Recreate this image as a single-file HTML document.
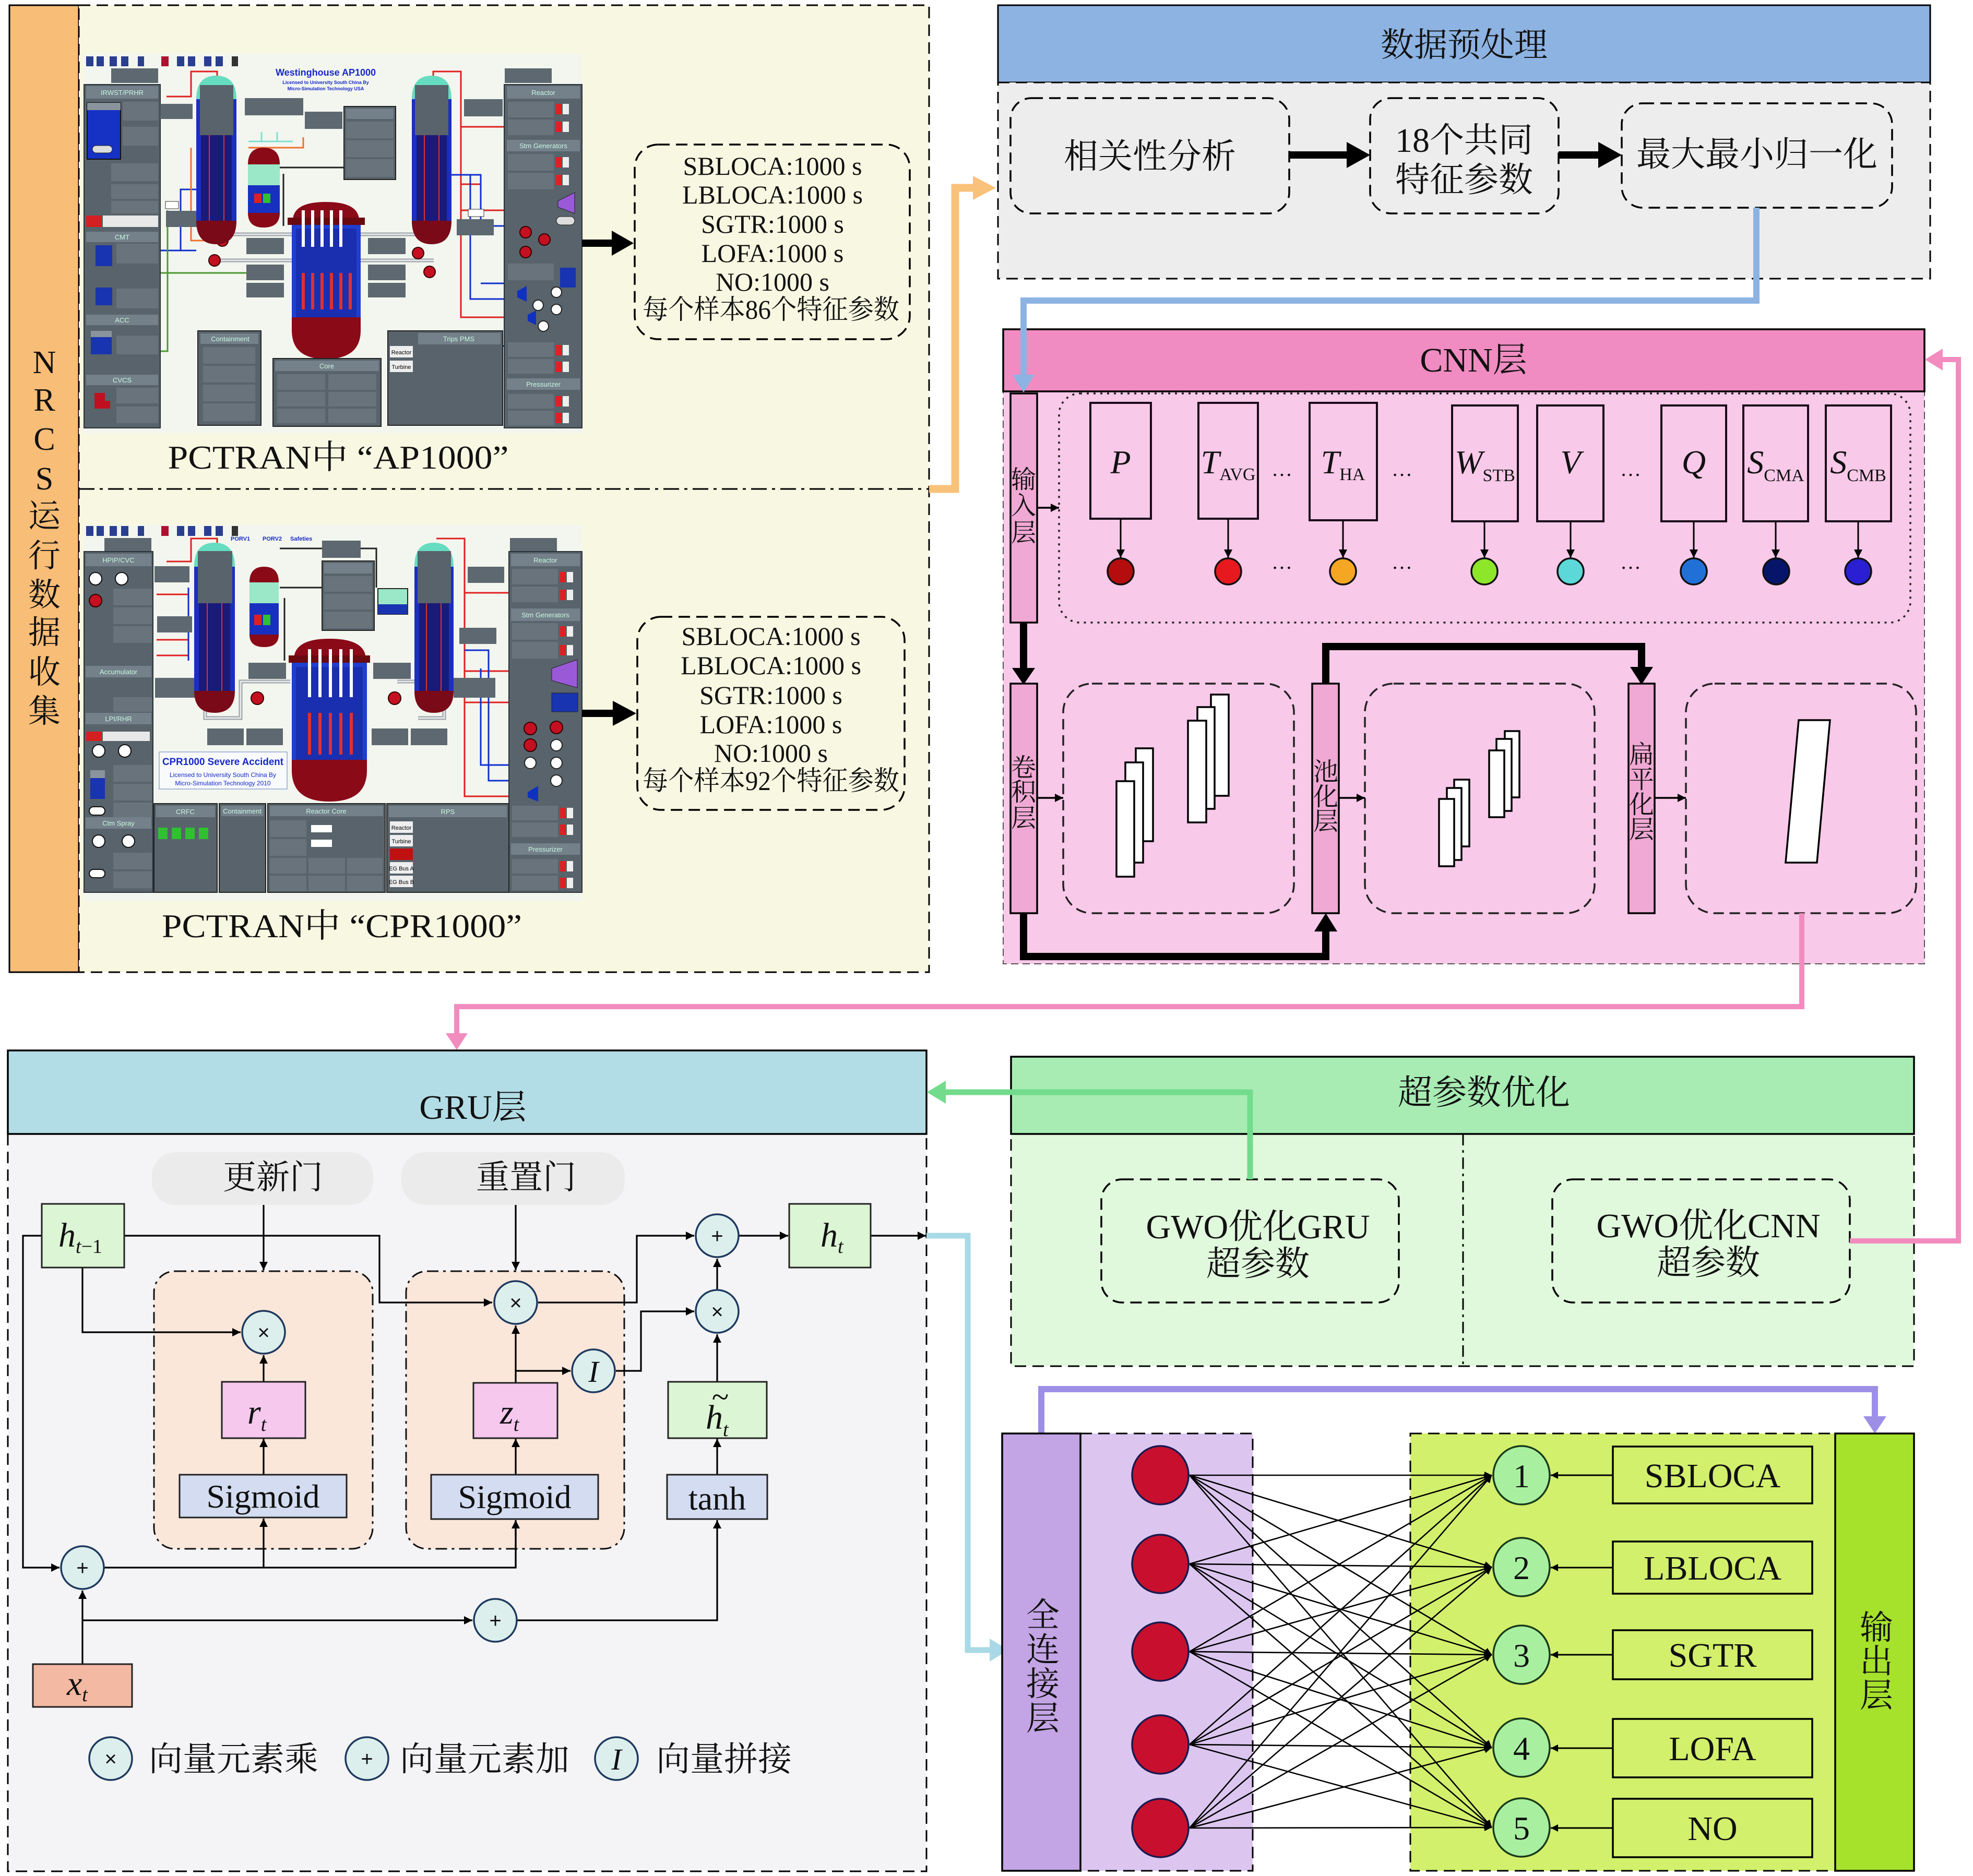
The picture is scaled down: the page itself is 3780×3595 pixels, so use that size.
<!DOCTYPE html>
<html><head><meta charset="utf-8"><title>diagram</title>
<style>
html,body{margin:0;padding:0;background:#fff;}
svg{display:block;}
.t{font-family:"Liberation Serif","Noto Serif CJK SC",serif;fill:#111;}
.sa{font-family:"Liberation Sans",sans-serif;}
</style></head>
<body>
<svg width="3780" height="3595" viewBox="0 0 3780 3595" xmlns="http://www.w3.org/2000/svg">
<defs>
<marker id="ah" viewBox="0 0 10 10" refX="10" refY="5" markerWidth="20" markerHeight="16" markerUnits="userSpaceOnUse" orient="auto"><path d="M0,0 L10,5 L0,10 z" fill="#000"/></marker>
<marker id="ah2" viewBox="0 0 10 10" refX="10" refY="5" markerWidth="18" markerHeight="14" markerUnits="userSpaceOnUse" orient="auto"><path d="M0,0 L10,5 L0,10 z" fill="#000"/></marker>
</defs>
<rect width="3780" height="3595" fill="#fff"/>

<!-- ================= LEFT: data collection ================= -->
<rect x="18" y="10" width="133" height="1853" fill="#f8bd77" stroke="#000" stroke-width="3"/>
<rect x="151" y="10" width="1629" height="1853" fill="#f8f8e2" stroke="#000" stroke-width="3" stroke-dasharray="22 12"/>
<line x1="151" y1="937" x2="1780" y2="937" stroke="#000" stroke-width="3" stroke-dasharray="30 10 6 10"/>
<g class="t" font-size="62" text-anchor="middle">
<text x="85" y="715">N</text><text x="85" y="787">R</text><text x="85" y="862">C</text><text x="85" y="938">S</text>
<text x="85" y="1010">运</text><text x="85" y="1086">行</text><text x="85" y="1161">数</text><text x="85" y="1233">据</text><text x="85" y="1309">收</text><text x="85" y="1384">集</text>
</g>

<!-- Screenshot 1 : AP1000 -->
<g transform="translate(161,103)">
<rect width="954" height="727" fill="#f3f6ef"/>
<g fill="#2a3f8f"><rect x="4" y="5" width="14" height="19"/><rect x="24" y="5" width="14" height="19"/><rect x="49" y="5" width="14" height="19"/><rect x="71" y="5" width="14" height="19"/><rect x="103" y="5" width="12" height="19"/><rect x="148" y="5" width="14" height="19" fill="#b01030"/><rect x="178" y="5" width="14" height="19"/><rect x="199" y="5" width="14" height="19"/><rect x="230" y="5" width="14" height="19"/><rect x="252" y="5" width="14" height="19"/><rect x="283" y="5" width="12" height="19" fill="#333"/></g>
<g fill="none" stroke-width="3">
<path d="M158,82 L205,82 L205,34 L255,34 L255,48" stroke="#e02020"/>
<path d="M669,42 L669,34 L722,34 L722,505 L805,505" stroke="#e02020"/>
<path d="M722,140 L805,140 M722,300 L805,300 M722,250 L760,250" stroke="#e02020"/>
<path d="M146,377 L215,377 M185,377 L185,260 L215,260" stroke="#1030d0"/>
<path d="M700,232 L760,232 L760,330 L805,330 M760,440 L805,440 M700,560 L805,560 M740,232 L740,470 L805,470" stroke="#1030d0"/>
<path d="M146,420 L315,420 M160,300 L160,570 L146,570" stroke="#4a9a30"/>
<path d="M205,180 L205,358 L240,358 M315,180 L420,180 L420,160" stroke="#f07030"/>
<path d="M315,168 L400,168 M340,150 L340,168 M370,150 L370,168" stroke="#80e0d0"/>
<path d="M375,218 L498,218 M382,230 L382,330" stroke="#222"/>
</g>
<g stroke="#9aa0a6" stroke-width="7" fill="none"><path d="M253,346 L400,346 M253,396 L400,396 M527,346 L670,346 M527,396 L670,396"/></g>
<g stroke="#e6e8ea" stroke-width="3" fill="none"><path d="M253,346 L400,346 M253,396 L400,396 M527,346 L670,346 M527,396 L670,396"/></g>
<rect x="52" y="28" width="90" height="28" fill="#5d6870"/>
<rect x="0" y="59" width="146" height="658" fill="#58636b" stroke="#2a3238" stroke-width="2"/>
<g fill="#74808a"><rect x="4" y="62" width="138" height="24"/><rect x="4" y="341" width="138" height="20"/><rect x="4" y="500" width="138" height="20"/><rect x="4" y="615" width="138" height="20"/></g>
<g fill="#68737b"><rect x="74" y="92" width="68" height="36"/><rect x="74" y="140" width="68" height="36"/><rect x="52" y="210" width="90" height="34"/><rect x="52" y="250" width="90" height="28"/><rect x="52" y="282" width="90" height="24"/><rect x="62" y="364" width="80" height="38"/><rect x="62" y="450" width="80" height="38"/><rect x="62" y="540" width="80" height="36"/><rect x="62" y="640" width="80" height="30"/><rect x="62" y="676" width="80" height="32"/></g>
<rect x="6" y="94" width="64" height="108" fill="#1632c4" stroke="#111" stroke-width="2"/>
<rect x="6" y="94" width="64" height="14" fill="#8a949c"/>
<rect x="16" y="176" width="38" height="14" rx="7" fill="#ddd" stroke="#222"/>
<rect x="4" y="310" width="30" height="22" fill="#d42020"/><rect x="36" y="310" width="106" height="22" fill="#e8e8e8"/>
<rect x="22" y="367" width="32" height="40" fill="#1834b0"/><rect x="22" y="448" width="32" height="34" fill="#1834b0"/>
<rect x="13" y="531" width="40" height="45" fill="#1834b0"/><rect x="13" y="531" width="40" height="12" fill="#8a949c"/>
<path d="M20,650 L40,650 L40,665 L50,665 L50,680 L20,680 Z" fill="#c01020"/>
<g class="sa" font-size="13" fill="#c8f8e0" text-anchor="middle"><text x="73" y="79">IRWST/PRHR</text><text x="73" y="356">CMT</text><text x="73" y="515">ACC</text><text x="73" y="630">CVCS</text></g>
<rect x="806" y="28" width="90" height="28" fill="#5d6870"/>
<rect x="805" y="59" width="149" height="658" fill="#58636b" stroke="#2a3238" stroke-width="2"/>
<g fill="#74808a"><rect x="810" y="62" width="140" height="24"/><rect x="810" y="165" width="140" height="22"/><rect x="810" y="622" width="140" height="22"/></g>
<g fill="#68737b"><rect x="812" y="92" width="88" height="30"/><rect x="812" y="126" width="88" height="30"/><rect x="812" y="192" width="88" height="32"/><rect x="812" y="228" width="88" height="32"/><rect x="812" y="402" width="88" height="32"/><rect x="812" y="553" width="88" height="28"/><rect x="812" y="585" width="88" height="28"/><rect x="812" y="652" width="88" height="28"/><rect x="812" y="684" width="88" height="28"/></g>
<g fill="#e02020"><rect x="904" y="96" width="11" height="20"/><rect x="904" y="130" width="11" height="20"/><rect x="904" y="198" width="11" height="20"/><rect x="904" y="232" width="11" height="20"/><rect x="904" y="558" width="11" height="20"/><rect x="904" y="590" width="11" height="20"/><rect x="904" y="656" width="11" height="20"/><rect x="904" y="688" width="11" height="20"/></g>
<g fill="#eee"><rect x="917" y="96" width="12" height="20"/><rect x="917" y="130" width="12" height="20"/><rect x="917" y="198" width="12" height="20"/><rect x="917" y="232" width="12" height="20"/><rect x="917" y="558" width="12" height="20"/><rect x="917" y="590" width="12" height="20"/><rect x="917" y="656" width="12" height="20"/><rect x="917" y="688" width="12" height="20"/></g>
<path d="M908,282 L940,266 L940,306 L908,294 Z" fill="#9a5ad8" stroke="#222"/>
<rect x="905" y="312" width="35" height="16" rx="8" fill="#ddd" stroke="#222"/>
<rect x="912" y="410" width="30" height="38" fill="#1834b0"/>
<g fill="#c41020" stroke="#300" stroke-width="2"><circle cx="846" cy="342" r="11"/><circle cx="882" cy="356" r="11"/><circle cx="846" cy="380" r="11"/><circle cx="265" cy="358" r="11"/><circle cx="250" cy="396" r="11"/><circle cx="640" cy="382" r="11"/><circle cx="662" cy="418" r="11"/></g>
<g fill="#fff" stroke="#222" stroke-width="2"><circle cx="905" cy="457" r="10"/><circle cx="905" cy="490" r="10"/><circle cx="870" cy="482" r="10"/><circle cx="880" cy="522" r="10"/></g>
<g fill="#1030c0"><path d="M830,455 L848,445 L848,475 L830,467Z"/><path d="M850,500 L866,492 L866,520 L850,512Z"/></g>
<g class="sa" font-size="13" fill="#c8f8e0" text-anchor="middle"><text x="880" y="79">Reactor</text><text x="880" y="181">Stm Generators</text><text x="880" y="638">Pressurizer</text></g>
<g fill="#5d6870"><rect x="146" y="96" width="62" height="29"/><rect x="157" y="301" width="67" height="31"/><rect x="308" y="85" width="112" height="33"/><rect x="423" y="111" width="72" height="33"/><rect x="728" y="87" width="74" height="33"/><rect x="714" y="317" width="71" height="31"/><rect x="311" y="353" width="72" height="31"/><rect x="311" y="404" width="72" height="30"/><rect x="311" y="439" width="72" height="28"/><rect x="544" y="353" width="72" height="31"/><rect x="544" y="404" width="72" height="30"/><rect x="544" y="439" width="72" height="28"/></g>
<rect x="498" y="101" width="99" height="140" fill="#58636b" stroke="#222" stroke-width="2"/>
<rect x="502" y="105" width="91" height="20" fill="#74808a"/>
<g fill="#68737b"><rect x="502" y="130" width="91" height="32"/><rect x="502" y="166" width="91" height="32"/><rect x="502" y="202" width="91" height="34"/></g>
<rect x="156" y="283" width="25" height="14" fill="#fff" stroke="#333"/><rect x="736" y="298" width="30" height="14" fill="#fff" stroke="#333"/>
<path d="M215,87 Q215,42 253,42 Q292,42 292,87 Z" fill="#66dcc0"/>
<rect x="215" y="87" width="77" height="236" fill="#1c2ec0"/>
<rect x="224" y="130" width="59" height="193" fill="#1a1a78"/>
<path d="M240,150 L240,320 M268,150 L268,320" stroke="#e03030" stroke-width="2"/>
<rect x="222" y="60" width="64" height="96" fill="#58636b"/>
<path d="M215,320 L292,320 Q292,365 253,365 Q215,365 215,320 Z" fill="#7a0a18"/>
<path d="M628,87 Q628,42 666,42 Q704,42 704,87 Z" fill="#66dcc0"/>
<rect x="628" y="87" width="76" height="236" fill="#1c2ec0"/>
<rect x="637" y="130" width="58" height="193" fill="#1a1a78"/>
<path d="M652,150 L652,320 M680,150 L680,320" stroke="#e03030" stroke-width="2"/>
<rect x="634" y="60" width="64" height="96" fill="#58636b"/>
<path d="M628,320 L704,320 Q704,365 666,365 Q628,365 628,320 Z" fill="#7a0a18"/>
<path d="M314,212 Q314,180 344,180 Q375,180 375,212 Z" fill="#8a0a18"/>
<rect x="314" y="212" width="61" height="40" fill="#9ae8c8"/>
<rect x="314" y="252" width="61" height="55" fill="#1830c0"/>
<path d="M314,305 Q314,333 344,333 Q375,333 375,305 Z" fill="#8a0a18"/>
<rect x="326" y="268" width="14" height="18" fill="#e02020"/><rect x="343" y="268" width="14" height="18" fill="#30c030"/>
<path d="M400,320 Q400,284 463,284 Q527,284 527,320 Z" fill="#8a0a18"/>
<rect x="390" y="314" width="148" height="14" fill="#6a0a10"/>
<rect x="398" y="328" width="132" height="180" fill="#1f3fd0"/>
<rect x="406" y="335" width="116" height="170" fill="#1a2eb0"/>
<g stroke="#fff" stroke-width="6"><path d="M420,300 L420,370 M438,300 L438,370 M456,300 L456,370 M474,300 L474,370 M492,300 L492,370"/></g>
<g stroke="#e03030" stroke-width="6"><path d="M420,420 L420,490 M438,420 L438,490 M456,420 L456,490 M474,420 L474,490 M492,420 L492,490 M510,420 L510,490"/></g>
<path d="M398,505 L530,505 L530,530 Q530,585 463,585 Q398,585 398,530 Z" fill="#8a0a18"/>
<rect x="218" y="531" width="121" height="181" fill="#58636b" stroke="#222" stroke-width="2"/>
<rect x="223" y="536" width="111" height="20" fill="#74808a"/>
<g fill="#68737b"><rect x="228" y="562" width="100" height="32"/><rect x="228" y="598" width="100" height="32"/><rect x="228" y="634" width="100" height="32"/><rect x="228" y="670" width="100" height="34"/></g>
<rect x="362" y="584" width="207" height="130" fill="#58636b" stroke="#222" stroke-width="2"/>
<rect x="366" y="588" width="199" height="20" fill="#74808a"/>
<g fill="#68737b"><rect x="370" y="614" width="92" height="30"/><rect x="468" y="614" width="92" height="30"/><rect x="370" y="648" width="92" height="28"/><rect x="468" y="648" width="92" height="28"/><rect x="370" y="680" width="92" height="28"/><rect x="468" y="680" width="92" height="28"/></g>
<rect x="582" y="531" width="220" height="181" fill="#58636b" stroke="#222" stroke-width="2"/>
<rect x="640" y="535" width="158" height="22" fill="#74808a"/>
<rect x="586" y="560" width="44" height="22" fill="#eee"/><rect x="586" y="588" width="44" height="22" fill="#eee"/>
<g class="sa" font-size="13" fill="#c8f8e0" text-anchor="middle"><text x="280" y="551">Containment</text><text x="465" y="603">Core</text><text x="718" y="551">Trips    PMS</text></g>
<g class="sa" font-size="11" fill="#000" text-anchor="middle"><text x="608" y="576">Reactor</text><text x="608" y="604">Turbine</text></g>
<text class="sa" x="463" y="42" font-size="18" font-weight="bold" fill="#1828c8" text-anchor="middle">Westinghouse AP1000</text>
<text class="sa" x="463" y="58" font-size="9" font-weight="bold" fill="#1828c8" text-anchor="middle">Licensed to University South China By</text>
<text class="sa" x="463" y="70" font-size="9" font-weight="bold" fill="#1828c8" text-anchor="middle">Micro-Simulation Technology USA</text>
</g>

<text class="t" x="648" y="898" font-size="64" text-anchor="middle" textLength="653" lengthAdjust="spacingAndGlyphs">PCTRAN中 “AP1000”</text>

<!-- Screenshot 2 : CPR1000 -->
<g transform="translate(161,1006)">
<rect width="954" height="721" fill="#f3f6ef"/>
<g fill="#2a3f8f"><rect x="4" y="2" width="14" height="19"/><rect x="24" y="2" width="14" height="19"/><rect x="49" y="2" width="14" height="19"/><rect x="71" y="2" width="14" height="19"/><rect x="103" y="2" width="12" height="19"/><rect x="148" y="2" width="14" height="19" fill="#b01030"/><rect x="178" y="2" width="14" height="19"/><rect x="199" y="2" width="14" height="19"/><rect x="230" y="2" width="14" height="19"/><rect x="252" y="2" width="14" height="19"/><rect x="283" y="2" width="12" height="19" fill="#333"/></g>
<g class="sa" font-size="11" fill="#1828c8" font-weight="bold"><text x="281" y="30">PORV1</text><text x="342" y="30">PORV2</text><text x="395" y="30">Safeties</text></g>
<g fill="none" stroke-width="3">
<path d="M158,70 L205,70 L205,26 L255,26 L255,40" stroke="#e02020"/>
<path d="M139,133 L200,133 M139,220 L200,220 M139,250 L200,250" stroke="#e02020"/>
<path d="M200,120 L200,260" stroke="#1030d0"/>
<path d="M675,26 L729,26 L729,520 L814,520" stroke="#e02020"/>
<path d="M729,130 L814,130 M729,280 L814,280 M729,340 L814,340" stroke="#e02020"/>
<path d="M729,240 L775,240 L775,490 L814,490 M760,275 L760,460 L814,460" stroke="#1030d0"/>
<path d="M375,45 L560,45 L560,120" stroke="#222"/>
<path d="M375,120 L463,120 M384,140 L384,260" stroke="#222"/>
</g>
<g stroke="#9aa0a6" stroke-width="7" fill="none"><path d="M232,345 L232,370 L300,370 L300,300 L395,300 M600,300 L690,300 L690,370 L640,370"/></g>
<g stroke="#e6e8ea" stroke-width="3" fill="none"><path d="M232,345 L232,370 L300,370 L300,300 L395,300 M600,300 L690,300 L690,370 L640,370"/></g>
<rect x="39" y="25" width="90" height="28" fill="#5d6870"/>
<rect x="0" y="51" width="132" height="653" fill="#58636b" stroke="#2a3238" stroke-width="2"/>
<g fill="#74808a"><rect x="3" y="55" width="126" height="24"/><rect x="3" y="270" width="126" height="22"/><rect x="3" y="360" width="126" height="22"/><rect x="3" y="560" width="126" height="22"/></g>
<g fill="#68737b"><rect x="56" y="122" width="74" height="32"/><rect x="56" y="158" width="74" height="32"/><rect x="56" y="194" width="74" height="32"/><rect x="56" y="330" width="74" height="28"/><rect x="56" y="460" width="74" height="32"/><rect x="56" y="496" width="74" height="32"/><rect x="56" y="532" width="74" height="28"/><rect x="56" y="628" width="74" height="32"/><rect x="56" y="664" width="74" height="32"/></g>
<g fill="#fff" stroke="#111" stroke-width="2"><circle cx="22" cy="103" r="12"/><circle cx="72" cy="103" r="12"/><circle cx="28" cy="433" r="12"/><circle cx="78" cy="433" r="12"/><circle cx="28" cy="606" r="12"/><circle cx="85" cy="606" r="12"/><rect x="10" y="540" width="30" height="16" rx="8"/><rect x="10" y="660" width="30" height="16" rx="8"/></g>
<circle cx="22" cy="145" r="12" fill="#c41020" stroke="#300" stroke-width="2"/>
<rect x="12" y="470" width="28" height="55" fill="#1834b0"/><rect x="12" y="470" width="28" height="15" fill="#8a949c"/>
<rect x="4" y="396" width="30" height="18" fill="#d42020"/><rect x="36" y="396" width="90" height="18" fill="#e8e8e8"/>
<g class="sa" font-size="13" fill="#c8f8e0" text-anchor="middle"><text x="66" y="72">HPIP/CVC</text><text x="66" y="286">Accumulator</text><text x="66" y="376">LPI/RHR</text><text x="66" y="576">Ctm Spray</text></g>
<rect x="816" y="25" width="90" height="28" fill="#5d6870"/>
<rect x="814" y="51" width="140" height="653" fill="#58636b" stroke="#2a3238" stroke-width="2"/>
<g fill="#74808a"><rect x="818" y="55" width="132" height="24"/><rect x="818" y="160" width="132" height="24"/><rect x="818" y="610" width="132" height="22"/></g>
<g fill="#68737b"><rect x="820" y="84" width="88" height="30"/><rect x="820" y="118" width="88" height="30"/><rect x="820" y="188" width="88" height="32"/><rect x="820" y="224" width="88" height="32"/><rect x="820" y="538" width="88" height="28"/><rect x="820" y="570" width="88" height="28"/><rect x="820" y="640" width="88" height="28"/><rect x="820" y="672" width="88" height="28"/></g>
<g fill="#e02020"><rect x="912" y="90" width="11" height="20"/><rect x="912" y="124" width="11" height="20"/><rect x="912" y="194" width="11" height="20"/><rect x="912" y="230" width="11" height="20"/><rect x="912" y="542" width="11" height="20"/><rect x="912" y="574" width="11" height="20"/><rect x="912" y="644" width="11" height="20"/><rect x="912" y="676" width="11" height="20"/></g>
<g fill="#eee"><rect x="925" y="90" width="12" height="20"/><rect x="925" y="124" width="12" height="20"/><rect x="925" y="194" width="12" height="20"/><rect x="925" y="230" width="12" height="20"/><rect x="925" y="542" width="12" height="20"/><rect x="925" y="574" width="12" height="20"/><rect x="925" y="644" width="12" height="20"/><rect x="925" y="676" width="12" height="20"/></g>
<path d="M896,275 L945,258 L945,312 L896,298 Z" fill="#9a5ad8" stroke="#222"/>
<rect x="896" y="322" width="50" height="36" fill="#1834b0" stroke="#222"/>
<g fill="#c41020" stroke="#300" stroke-width="2"><circle cx="855" cy="390" r="12"/><circle cx="905" cy="388" r="12"/><circle cx="855" cy="422" r="12"/></g>
<g fill="#fff" stroke="#222" stroke-width="2"><circle cx="905" cy="422" r="11"/><circle cx="855" cy="456" r="11"/><circle cx="905" cy="456" r="11"/><circle cx="905" cy="490" r="11"/></g>
<path d="M850,512 L870,500 L870,530 L850,522Z" fill="#1030c0"/>
<g class="sa" font-size="13" fill="#c8f8e0" text-anchor="middle"><text x="884" y="72">Reactor</text><text x="884" y="177">Stm Generators</text><text x="884" y="626">Pressurizer</text></g>
<g fill="#5d6870"><rect x="456" y="30" width="74" height="33"/><rect x="135" y="79" width="67" height="31"/><rect x="140" y="175" width="67" height="31"/><rect x="735" y="80" width="70" height="31"/><rect x="719" y="197" width="71" height="31"/><rect x="315" y="264" width="72" height="31"/><rect x="554" y="264" width="72" height="31"/><rect x="136" y="293" width="80" height="38"/><rect x="708" y="293" width="80" height="38"/><rect x="236" y="390" width="70" height="32"/><rect x="311" y="390" width="70" height="32"/><rect x="551" y="390" width="70" height="32"/><rect x="626" y="390" width="70" height="32"/></g>
<rect x="456" y="69" width="100" height="133" fill="#58636b" stroke="#222" stroke-width="2"/>
<rect x="460" y="73" width="92" height="20" fill="#74808a"/>
<g fill="#68737b"><rect x="460" y="98" width="92" height="30"/><rect x="460" y="132" width="92" height="30"/><rect x="460" y="166" width="92" height="32"/></g>
<rect x="563" y="122" width="57" height="49" fill="#9ae8c8" stroke="#222" stroke-width="2"/><rect x="563" y="152" width="57" height="19" fill="#1834b0"/>
<path d="M211,80 Q211,34 250,34 Q289,34 289,80 Z" fill="#66dcc0"/>
<rect x="211" y="80" width="78" height="240" fill="#1c2ec0"/>
<rect x="220" y="130" width="60" height="190" fill="#1a1a78"/>
<path d="M236,150 L236,320 M264,150 L264,320" stroke="#e03030" stroke-width="2"/>
<rect x="218" y="50" width="66" height="100" fill="#58636b"/>
<path d="M211,318 L289,318 Q289,360 250,360 Q211,360 211,318 Z" fill="#7a0a18"/>
<path d="M633,80 Q633,34 670,34 Q708,34 708,80 Z" fill="#66dcc0"/>
<rect x="633" y="80" width="75" height="240" fill="#1c2ec0"/>
<rect x="642" y="130" width="57" height="190" fill="#1a1a78"/>
<path d="M656,150 L656,320 M684,150 L684,320" stroke="#e03030" stroke-width="2"/>
<rect x="639" y="50" width="64" height="100" fill="#58636b"/>
<path d="M633,318 L708,318 Q708,360 670,360 Q633,360 633,318 Z" fill="#7a0a18"/>
<path d="M317,110 Q317,80 345,80 Q373,80 373,110 Z" fill="#8a0a18"/>
<rect x="317" y="110" width="56" height="40" fill="#9ae8c8"/>
<rect x="317" y="150" width="56" height="62" fill="#1830c0"/>
<path d="M317,210 Q317,234 345,234 Q373,234 373,210 Z" fill="#8a0a18"/>
<rect x="326" y="172" width="14" height="20" fill="#e02020"/><rect x="343" y="172" width="14" height="20" fill="#30c030"/>
<path d="M402,258 Q402,218 470,218 Q540,218 540,258 Z" fill="#8a0a18"/>
<rect x="392" y="250" width="156" height="14" fill="#6a0a10"/>
<rect x="398" y="264" width="144" height="190" fill="#1f3fd0"/>
<rect x="406" y="272" width="128" height="180" fill="#1a2eb0"/>
<g stroke="#fff" stroke-width="6"><path d="M432,238 L432,330 M452,238 L452,330 M472,238 L472,330 M492,238 L492,330 M512,238 L512,330"/></g>
<g stroke="#e03030" stroke-width="6"><path d="M432,360 L432,440 M452,360 L452,440 M472,360 L472,440 M492,360 L492,440 M512,360 L512,440"/></g>
<path d="M398,450 L542,450 L542,470 Q542,530 470,530 Q398,530 398,470 Z" fill="#8a0a18"/>
<g fill="#c41020" stroke="#300" stroke-width="2"><circle cx="332" cy="332" r="12"/><circle cx="595" cy="332" r="12"/></g>
<rect x="144" y="435" width="245" height="71" fill="#f8fafc" stroke="#6080c0" stroke-width="1"/>
<text class="sa" x="266" y="460" font-size="19" font-weight="bold" fill="#1828c8" text-anchor="middle" textLength="232" lengthAdjust="spacingAndGlyphs">CPR1000 Severe Accident</text>
<text class="sa" x="266" y="483" font-size="12" fill="#1828c8" text-anchor="middle">Licensed to University South China By</text>
<text class="sa" x="266" y="499" font-size="12" fill="#1828c8" text-anchor="middle">Micro-Simulation Technology 2010</text>
<rect x="134" y="534" width="121" height="170" fill="#58636b" stroke="#222" stroke-width="2"/>
<rect x="138" y="538" width="113" height="22" fill="#74808a"/>
<g fill="#30c030"><rect x="142" y="580" width="18" height="22"/><rect x="168" y="580" width="18" height="22"/><rect x="194" y="580" width="18" height="22"/><rect x="220" y="580" width="18" height="22"/></g>
<rect x="259" y="534" width="89" height="170" fill="#58636b" stroke="#222" stroke-width="2"/>
<rect x="263" y="538" width="81" height="20" fill="#74808a"/>
<rect x="352" y="534" width="225" height="170" fill="#58636b" stroke="#222" stroke-width="2"/>
<rect x="356" y="538" width="217" height="20" fill="#74808a"/>
<g fill="#68737b"><rect x="356" y="566" width="70" height="32"/><rect x="356" y="602" width="70" height="32"/><rect x="356" y="638" width="70" height="30"/><rect x="430" y="638" width="70" height="30"/><rect x="504" y="638" width="68" height="30"/><rect x="356" y="672" width="70" height="30"/><rect x="430" y="672" width="70" height="30"/><rect x="504" y="672" width="68" height="30"/></g>
<rect x="435" y="575" width="40" height="14" fill="#fff"/><rect x="435" y="603" width="40" height="14" fill="#fff"/>
<rect x="580" y="534" width="234" height="170" fill="#58636b" stroke="#222" stroke-width="2"/>
<rect x="584" y="538" width="226" height="22" fill="#74808a"/>
<g fill="#eee"><rect x="586" y="568" width="44" height="22"/><rect x="586" y="594" width="44" height="22"/><rect x="586" y="646" width="44" height="22"/><rect x="586" y="672" width="44" height="22"/></g>
<rect x="586" y="620" width="44" height="22" fill="#c01010"/>
<g class="sa" font-size="13" fill="#c8f8e0" text-anchor="middle"><text x="194" y="554">CRFC</text><text x="303" y="553">Containment</text><text x="464" y="553">Reactor Core</text><text x="697" y="554">RPS</text></g>
<g class="sa" font-size="11" fill="#000" text-anchor="middle"><text x="608" y="584">Reactor</text><text x="608" y="610">Turbine</text><text x="608" y="662">EG Bus A</text><text x="608" y="688">EG Bus B</text></g>
</g>

<text class="t" x="655" y="1796" font-size="64" text-anchor="middle" textLength="690" lengthAdjust="spacingAndGlyphs">PCTRAN中 “CPR1000”</text>

<!-- text boxes -->
<rect x="1216" y="277" width="527" height="373" rx="45" fill="none" stroke="#000" stroke-width="3.5" stroke-dasharray="22 12"/>
<g class="t" font-size="50" text-anchor="middle">
<text x="1480" y="335">SBLOCA:1000 s</text><text x="1480" y="390">LBLOCA:1000 s</text><text x="1480" y="446">SGTR:1000 s</text><text x="1480" y="502">LOFA:1000 s</text><text x="1480" y="557">NO:1000 s</text>
<text x="1477" y="611" font-size="52" textLength="492" lengthAdjust="spacingAndGlyphs">每个样本86个特征参数</text>
</g>
<rect x="1221" y="1182" width="512" height="370" rx="45" fill="none" stroke="#000" stroke-width="3.5" stroke-dasharray="22 12"/>
<g class="t" font-size="50" text-anchor="middle">
<text x="1477" y="1236">SBLOCA:1000 s</text><text x="1477" y="1292">LBLOCA:1000 s</text><text x="1477" y="1349">SGTR:1000 s</text><text x="1477" y="1405">LOFA:1000 s</text><text x="1477" y="1460">NO:1000 s</text>
<text x="1477" y="1514" font-size="52" textLength="492" lengthAdjust="spacingAndGlyphs">每个样本92个特征参数</text>
</g>
<rect x="1115" y="459" width="62" height="14" fill="#000"/><polygon points="1172,442 1214,466 1172,490" fill="#000"/>
<rect x="1115" y="1360" width="64" height="14" fill="#000"/><polygon points="1174,1343 1219,1367 1174,1391" fill="#000"/>

<!-- orange connector -->
<polyline points="1780,937 1830,937 1830,360 1868,360" fill="none" stroke="#f9c27a" stroke-width="15"/>
<polygon points="1864,337 1908,360 1864,383" fill="#f9c27a"/>

<!-- ================= data preprocessing ================= -->
<rect x="1912" y="10" width="1786" height="148" fill="#8db3e2" stroke="#000" stroke-width="3"/>
<rect x="1912" y="158" width="1786" height="376" fill="#ededed" stroke="#000" stroke-width="3" stroke-dasharray="22 12"/>
<text class="t" x="2805" y="108" font-size="64" text-anchor="middle">数据预处理</text>
<rect x="1936" y="188" width="534" height="221" rx="40" fill="none" stroke="#000" stroke-width="3.5" stroke-dasharray="22 12"/>
<text class="t" x="2203" y="322" font-size="66" text-anchor="middle">相关性分析</text>
<rect x="2625" y="188" width="361" height="221" rx="40" fill="none" stroke="#000" stroke-width="3.5" stroke-dasharray="22 12"/>
<text class="t" x="2805" y="291" font-size="66" text-anchor="middle">18个共同</text>
<text class="t" x="2805" y="367" font-size="66" text-anchor="middle">特征参数</text>
<rect x="3107" y="198" width="518" height="200" rx="40" fill="none" stroke="#000" stroke-width="3.5" stroke-dasharray="22 12"/>
<text class="t" x="3366" y="318" font-size="66" text-anchor="middle">最大最小归一化</text>
<rect x="2470" y="290" width="115" height="14" fill="#000"/><polygon points="2580,272 2625,297 2580,322" fill="#000"/>
<rect x="2986" y="290" width="80" height="14" fill="#000"/><polygon points="3062,272 3107,297 3062,322" fill="#000"/>

<!-- ================= CNN ================= -->
<rect x="1922" y="750" width="1765" height="1097" fill="#f8c9e9" stroke="#555" stroke-width="2" stroke-dasharray="14 8"/>
<rect x="1922" y="631" width="1765" height="119" fill="#f08cc2" stroke="#000" stroke-width="3.5"/>
<text class="t" x="2823" y="712" font-size="66" text-anchor="middle">CNN层</text>

<!-- blue connector (drawn over header) -->
<polyline points="3365,398 3365,576 1961,576 1961,722" fill="none" stroke="#8db3e2" stroke-width="12"/>
<polygon points="1940,718 1982,718 1961,752" fill="#8db3e2"/>

<rect x="1936" y="754" width="51" height="439" fill="#f0a8d4" stroke="#000" stroke-width="3.5"/>
<g class="t" font-size="48" text-anchor="middle"><text x="1961" y="935">输</text><text x="1961" y="985">入</text><text x="1961" y="1037">层</text></g>
<rect x="2029" y="754" width="1631" height="439" rx="40" fill="none" stroke="#222" stroke-width="3.5" stroke-dasharray="4 9"/>
<line x1="1987" y1="973" x2="2029" y2="973" stroke="#000" stroke-width="3.5" marker-end="url(#ah)"/>

<g fill="#f8c9e9" stroke="#1a0a1a" stroke-width="4">
<rect x="2089" y="772" width="116" height="222"/><rect x="2296" y="772" width="114" height="222"/><rect x="2509" y="772" width="129" height="225"/>
<rect x="2782" y="777" width="126" height="222"/><rect x="2945" y="777" width="127" height="222"/><rect x="3183" y="777" width="124" height="222"/><rect x="3340" y="777" width="124" height="222"/><rect x="3498" y="777" width="125" height="222"/>
</g>
<g class="t" font-size="64" text-anchor="middle" font-style="italic">
<text x="2147" y="907">P</text>
<text x="2353" y="907">T<tspan font-size="34" font-style="normal" dy="13">AVG</tspan></text>
<text x="2573" y="907">T<tspan font-size="34" font-style="normal" dy="13">HA</tspan></text>
<text x="2845" y="907">W<tspan font-size="34" font-style="normal" dy="15">STB</tspan></text>
<text x="3009" y="907">V</text>
<text x="3245" y="907">Q</text>
<text x="3402" y="907">S<tspan font-size="34" font-style="normal" dy="15">CMA</tspan></text>
<text x="3560" y="907">S<tspan font-size="34" font-style="normal" dy="15">CMB</tspan></text>
</g>
<g class="t" font-size="40" text-anchor="middle"><text x="2456" y="912">…</text><text x="2686" y="912">…</text><text x="3124" y="912">…</text><text x="2456" y="1090">…</text><text x="2686" y="1090">…</text><text x="3124" y="1090">…</text></g>
<g stroke="#000" stroke-width="3" marker-end="url(#ah)">
<line x1="2147" y1="994" x2="2147" y2="1069"/><line x1="2353" y1="994" x2="2353" y2="1069"/><line x1="2573" y1="997" x2="2573" y2="1069"/><line x1="2844" y1="999" x2="2844" y2="1069"/><line x1="3009" y1="999" x2="3009" y2="1069"/><line x1="3245" y1="999" x2="3245" y2="1069"/><line x1="3402" y1="999" x2="3402" y2="1069"/><line x1="3560" y1="999" x2="3560" y2="1069"/>
</g>
<g stroke="#111" stroke-width="3.5">
<circle cx="2147" cy="1095" r="25" fill="#b50d0d"/><circle cx="2353" cy="1095" r="25" fill="#e8191e"/><circle cx="2573" cy="1095" r="25" fill="#f5a623"/><circle cx="2844" cy="1095" r="25" fill="#8ee62a"/><circle cx="3009" cy="1095" r="25" fill="#5cd8d8"/><circle cx="3245" cy="1095" r="25" fill="#2170d8"/><circle cx="3403" cy="1095" r="25" fill="#06146a"/><circle cx="3560" cy="1095" r="25" fill="#2a1fd2"/>
</g>

<rect x="1954" y="1193" width="14" height="90" fill="#000"/><polygon points="1939,1280 1983,1280 1961,1312" fill="#000"/>
<polyline points="1961,1750 1961,1833 2540,1833 2540,1782" fill="none" stroke="#000" stroke-width="14"/>
<polygon points="2518,1785 2562,1785 2540,1750" fill="#000"/>
<polyline points="2540,1310 2540,1239 3145,1239 3145,1282" fill="none" stroke="#000" stroke-width="14"/>
<polygon points="3123,1278 3167,1278 3145,1312" fill="#000"/>

<g fill="#f0a8d4" stroke="#000" stroke-width="3.5">
<rect x="1936" y="1310" width="51" height="440"/><rect x="2514" y="1310" width="51" height="440"/><rect x="3120" y="1310" width="50" height="440"/>
</g>
<g class="t" font-size="48" text-anchor="middle">
<text x="1961" y="1487">卷</text><text x="1961" y="1534">积</text><text x="1961" y="1584">层</text>
<text x="2540" y="1495">池</text><text x="2540" y="1543">化</text><text x="2540" y="1590">层</text>
<text x="3145" y="1462">扁</text><text x="3145" y="1510">平</text><text x="3145" y="1558">化</text><text x="3145" y="1606">层</text>
</g>
<g fill="none" stroke="#222" stroke-width="3.5" stroke-dasharray="20 11">
<rect x="2037" y="1310" width="442" height="440" rx="55"/><rect x="2615" y="1310" width="440" height="440" rx="55"/><rect x="3230" y="1310" width="441" height="440" rx="55"/>
</g>
<g stroke="#000" stroke-width="3.5" marker-end="url(#ah)">
<line x1="1987" y1="1529" x2="2037" y2="1529"/><line x1="2565" y1="1529" x2="2615" y2="1529"/><line x1="3170" y1="1529" x2="3230" y2="1529"/>
</g>
<g fill="#fff" stroke="#000" stroke-width="3.5">
<rect x="2176" y="1434" width="33" height="178"/><rect x="2156" y="1461" width="34" height="192"/><rect x="2139" y="1497" width="34" height="183"/>
<rect x="2320" y="1331" width="34" height="194"/><rect x="2294" y="1355" width="33" height="195"/><rect x="2276" y="1381" width="35" height="195"/>
<rect x="2786" y="1494" width="29" height="128"/><rect x="2772" y="1510" width="28" height="138"/><rect x="2757" y="1531" width="29" height="129"/>
<rect x="2883" y="1401" width="28" height="127"/><rect x="2867" y="1416" width="29" height="138"/><rect x="2853" y="1438" width="29" height="128"/>
<polygon points="3446,1380 3506,1380 3481,1653 3421,1653"/>
</g>

<polyline points="3452,1750 3452,1929 875,1929 875,1985" fill="none" stroke="#f28cbf" stroke-width="10"/>
<polygon points="854,1980 896,1980 875,2012" fill="#f28cbf"/>

<!-- ================= GRU ================= -->
<rect x="15" y="2173" width="1760" height="1413" fill="#f4f4f6" stroke="#000" stroke-width="3" stroke-dasharray="22 12"/>
<rect x="15" y="2013" width="1760" height="160" fill="#b3dde6" stroke="#000" stroke-width="3.5"/>
<text class="t" x="906" y="2144" font-size="66" text-anchor="middle">GRU层</text>
<rect x="291" y="2208" width="424" height="101" rx="45" fill="#ebebeb"/>
<rect x="769" y="2208" width="428" height="101" rx="45" fill="#ebebeb"/>
<text class="t" x="523" y="2278" font-size="64" text-anchor="middle">更新门</text>
<text class="t" x="1008" y="2278" font-size="64" text-anchor="middle">重置门</text>
<g fill="#fbe6da" stroke="#111" stroke-width="3" stroke-dasharray="22 9 5 9">
<rect x="295" y="2436" width="419" height="532" rx="40"/><rect x="778" y="2436" width="418" height="532" rx="40"/>
</g>
<g fill="none" stroke="#000" stroke-width="3.2" marker-end="url(#ah)">
<polyline points="80,2368 44,2368 44,3004 114,3004"/>
<polyline points="238,2368 727,2368 727,2496 943,2496"/>
<polyline points="158,2429 158,2553 461,2553"/>
<polyline points="505,2309 505,2434"/>
<polyline points="988,2309 988,2434"/>
<polyline points="505,2648 505,2597"/>
<polyline points="988,2650 988,2540"/>
<polyline points="505,2826 505,2757"/>
<polyline points="988,2826 988,2757"/>
<polyline points="988,2627 1093,2627"/>
<polyline points="1031,2496 1220,2496 1220,2368 1330,2368"/>
<polyline points="1180,2627 1228,2627 1228,2513 1330,2513"/>
<polyline points="1374,2826 1374,2757"/>
<polyline points="1374,2648 1374,2557"/>
<polyline points="1374,2471 1374,2412"/>
<polyline points="1416,2368 1510,2368"/>
<polyline points="1668,2368 1774,2368"/>
<polyline points="158,3189 158,3048"/>
<polyline points="158,3105 905,3105"/>
<polyline points="991,3105 1374,3105 1374,2913"/>
</g>
<g fill="none" stroke="#000" stroke-width="3.2">
<polyline points="200,3004 988,3004 988,2915"/>
</g>
<g fill="none" stroke="#000" stroke-width="3.2" marker-end="url(#ah)">
<line x1="988" y1="3004" x2="988" y2="2913"/><line x1="505" y1="3004" x2="505" y2="2910"/>
</g>
<g stroke="#222" stroke-width="3">
<rect x="80" y="2307" width="158" height="122" fill="#dcf5d4"/>
<rect x="1512" y="2307" width="156" height="122" fill="#dcf5d4"/>
<rect x="425" y="2648" width="160" height="108" fill="#f6c8ee"/>
<rect x="907" y="2650" width="161" height="106" fill="#f6c8ee"/>
<rect x="1280" y="2648" width="189" height="108" fill="#dcf5d4"/>
<rect x="344" y="2826" width="320" height="82" fill="#d3dcf0"/>
<rect x="826" y="2826" width="320" height="85" fill="#d3dcf0"/>
<rect x="1278" y="2826" width="192" height="85" fill="#d3dcf0"/>
<rect x="63" y="3189" width="190" height="82" fill="#f4b9a3"/>
</g>
<g fill="#dcefed" stroke="#1f3a5f" stroke-width="3.5">
<circle cx="505" cy="2553" r="41"/><circle cx="988" cy="2496" r="41"/><circle cx="1374" cy="2513" r="41"/>
<circle cx="1374" cy="2368" r="41"/><circle cx="158" cy="3004" r="41"/><circle cx="949" cy="3105" r="41"/>
<circle cx="1137" cy="2627" r="41"/>
<circle cx="212" cy="3370" r="41"/><circle cx="703" cy="3370" r="41"/><circle cx="1181" cy="3370" r="41"/>
</g>
<g class="sa" font-size="40" text-anchor="middle" fill="#111">
<text x="505" y="2567">×</text><text x="988" y="2510">×</text><text x="1374" y="2527">×</text><text x="212" y="3384">×</text>
<text x="1374" y="2382">+</text><text x="158" y="3018">+</text><text x="949" y="3119">+</text><text x="703" y="3384">+</text>
</g>
<g class="t" font-size="58" font-style="italic" text-anchor="middle"><text x="1137" y="2648">I</text><text x="1181" y="3391">I</text></g>
<g class="t" font-style="italic">
<text x="112" y="2389" font-size="66">h<tspan font-size="38" dy="12">t</tspan><tspan font-size="38" font-style="normal">−1</tspan></text>
<text x="1572" y="2389" font-size="66">h<tspan font-size="38" dy="12">t</tspan></text>
<text x="474" y="2728" font-size="66">r<tspan font-size="38" dy="14">t</tspan></text>
<text x="958" y="2728" font-size="66">z<tspan font-size="38" dy="14">t</tspan></text>
<text x="1352" y="2738" font-size="66">h<tspan font-size="38" dy="14">t</tspan></text>
<text x="1380" y="2697" font-size="60" font-style="normal" text-anchor="middle">~</text>
<text x="128" y="3248" font-size="66">x<tspan font-size="38" dy="12">t</tspan></text>
</g>
<g class="t" font-size="64" text-anchor="middle"><text x="504" y="2889">Sigmoid</text><text x="986" y="2890">Sigmoid</text><text x="1374" y="2893">tanh</text></g>
<g class="t" font-size="65"><text x="285" y="3393">向量元素乘</text><text x="766" y="3393">向量元素加</text><text x="1257" y="3393">向量拼接</text></g>

<polyline points="1775,2368 1854,2368 1854,3162 1900,3162" fill="none" stroke="#a9d9e6" stroke-width="11"/>
<polygon points="1896,3140 1932,3162 1896,3184" fill="#a9d9e6"/>

<!-- ================= Hyperparameter ================= -->
<rect x="1937" y="2173" width="1730" height="445" fill="#e0f8dc" stroke="#000" stroke-width="3" stroke-dasharray="22 12"/>
<rect x="1937" y="2025" width="1730" height="148" fill="#a8ecb4" stroke="#000" stroke-width="3.5"/>
<text class="t" x="2843" y="2116" font-size="66" text-anchor="middle">超参数优化</text>
<line x1="2803" y1="2173" x2="2803" y2="2618" stroke="#000" stroke-width="3" stroke-dasharray="22 9 5 9"/>
<rect x="2110" y="2260" width="570" height="236" rx="40" fill="none" stroke="#000" stroke-width="3.5" stroke-dasharray="22 12"/>
<rect x="2974" y="2260" width="570" height="236" rx="40" fill="none" stroke="#000" stroke-width="3.5" stroke-dasharray="22 12"/>
<g class="t" font-size="66" text-anchor="middle">
<text x="2410" y="2373">GWO优化GRU</text><text x="2410" y="2444">超参数</text>
<text x="3273" y="2371">GWO优化CNN</text><text x="3273" y="2442">超参数</text>
</g>
<polyline points="2395,2260 2395,2093 1808,2093" fill="none" stroke="#72dc8c" stroke-width="11"/>
<polygon points="1812,2071 1776,2093 1812,2115" fill="#72dc8c"/>
<polyline points="3544,2378 3752,2378 3752,689 3718,689" fill="none" stroke="#f28cbf" stroke-width="10"/>
<polygon points="3722,668 3688,689 3722,710" fill="#f28cbf"/>

<!-- ================= FC / output ================= -->
<polyline points="1995,2747 1995,2662 3592,2662 3592,2718" fill="none" stroke="#9d8fe6" stroke-width="12"/>
<polygon points="3570,2714 3614,2714 3592,2747" fill="#9d8fe6"/>
<rect x="2070" y="2747" width="330" height="838" fill="#dcc6f0" stroke="#000" stroke-width="3" stroke-dasharray="22 12"/>
<rect x="1920" y="2747" width="150" height="838" fill="#c3a4e4" stroke="#000" stroke-width="3.5"/>
<rect x="2702" y="2747" width="814" height="838" fill="#d2f06c" stroke="#000" stroke-width="3" stroke-dasharray="22 12"/>
<rect x="3516" y="2747" width="151" height="838" fill="#a6e22c" stroke="#000" stroke-width="3.5"/>
<g class="t" font-size="64" text-anchor="middle">
<text x="1998" y="3117">全</text><text x="1998" y="3183">连</text><text x="1998" y="3249">接</text><text x="1998" y="3315">层</text>
<text x="3595" y="3141">输</text><text x="3595" y="3206">出</text><text x="3595" y="3271">层</text>
</g>
<g stroke="#000" stroke-width="2.6" marker-end="url(#ah2)">
<line x1="2279" y1="2827" x2="2858" y2="2827"/><line x1="2279" y1="2827" x2="2858" y2="3003"/><line x1="2279" y1="2827" x2="2858" y2="3171"/><line x1="2279" y1="2827" x2="2858" y2="3349"/><line x1="2279" y1="2827" x2="2858" y2="3502"/>
<line x1="2279" y1="2997" x2="2858" y2="2827"/><line x1="2279" y1="2997" x2="2858" y2="3003"/><line x1="2279" y1="2997" x2="2858" y2="3171"/><line x1="2279" y1="2997" x2="2858" y2="3349"/><line x1="2279" y1="2997" x2="2858" y2="3502"/>
<line x1="2279" y1="3165" x2="2858" y2="2827"/><line x1="2279" y1="3165" x2="2858" y2="3003"/><line x1="2279" y1="3165" x2="2858" y2="3171"/><line x1="2279" y1="3165" x2="2858" y2="3349"/><line x1="2279" y1="3165" x2="2858" y2="3502"/>
<line x1="2279" y1="3343" x2="2858" y2="2827"/><line x1="2279" y1="3343" x2="2858" y2="3003"/><line x1="2279" y1="3343" x2="2858" y2="3171"/><line x1="2279" y1="3343" x2="2858" y2="3349"/><line x1="2279" y1="3343" x2="2858" y2="3502"/>
<line x1="2279" y1="3503" x2="2858" y2="2827"/><line x1="2279" y1="3503" x2="2858" y2="3003"/><line x1="2279" y1="3503" x2="2858" y2="3171"/><line x1="2279" y1="3503" x2="2858" y2="3349"/><line x1="2279" y1="3503" x2="2858" y2="3502"/>
</g>
<g fill="#c8102e" stroke="#1a1a50" stroke-width="3.5">
<ellipse cx="2223" cy="2827" rx="54" ry="56"/><ellipse cx="2223" cy="2997" rx="54" ry="56"/><ellipse cx="2223" cy="3165" rx="54" ry="56"/><ellipse cx="2223" cy="3343" rx="54" ry="56"/><ellipse cx="2223" cy="3503" rx="54" ry="56"/>
</g>
<g fill="#a8f0a0" stroke="#1a3a1a" stroke-width="3.5">
<ellipse cx="2915" cy="2827" rx="54" ry="56"/><ellipse cx="2915" cy="3003" rx="54" ry="56"/><ellipse cx="2915" cy="3171" rx="54" ry="56"/><ellipse cx="2915" cy="3349" rx="54" ry="56"/><ellipse cx="2915" cy="3502" rx="54" ry="56"/>
</g>
<g class="t" font-size="64" text-anchor="middle">
<text x="2915" y="2850">1</text><text x="2915" y="3026">2</text><text x="2915" y="3194">3</text><text x="2915" y="3372">4</text><text x="2915" y="3525">5</text>
</g>
<g fill="none" stroke="#000" stroke-width="3.5">
<rect x="3090" y="2772" width="382" height="109"/><rect x="3090" y="2954" width="382" height="100"/><rect x="3090" y="3124" width="382" height="94"/><rect x="3090" y="3294" width="382" height="112"/><rect x="3090" y="3447" width="382" height="112"/>
</g>
<g stroke="#000" stroke-width="3" marker-end="url(#ah2)">
<line x1="3090" y1="2827" x2="2971" y2="2827"/><line x1="3090" y1="3004" x2="2971" y2="3004"/><line x1="3090" y1="3171" x2="2971" y2="3171"/><line x1="3090" y1="3350" x2="2971" y2="3350"/><line x1="3090" y1="3503" x2="2971" y2="3503"/>
</g>
<g class="t" font-size="66" text-anchor="middle">
<text x="3281" y="2850">SBLOCA</text><text x="3281" y="3027">LBLOCA</text><text x="3281" y="3194">SGTR</text><text x="3281" y="3373">LOFA</text><text x="3281" y="3526">NO</text>
</g>
</svg>
</body></html>
